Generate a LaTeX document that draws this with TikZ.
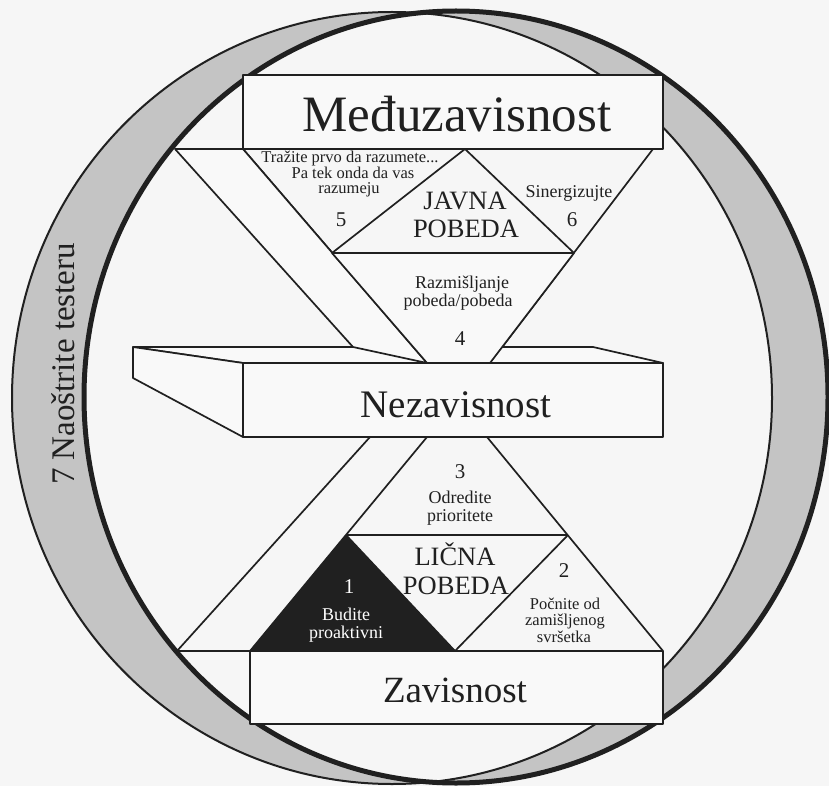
\documentclass[tikz,border=0pt]{standalone}
\usepackage{fontspec}
\setmainfont{Liberation Serif}
\definecolor{bg}{RGB}{246,246,246}
\definecolor{ringgray}{RGB}{196,196,196}
\definecolor{ink}{RGB}{32,32,32}
\definecolor{boxfill}{RGB}{249,249,249}
\begin{document}
\begin{tikzpicture}[x=1pt,y=-1pt,line join=round,
  edge/.style={draw=ink,line width=1.7pt},
  face/.style={fill=boxfill,draw=ink,line width=1.7pt},
  lab/.style={inner sep=0pt,anchor=base,text=ink},
  huge/.style={lab,font=\fontsize{51}{51}\selectfont},
  large/.style={lab,font=\fontsize{39}{39}\selectfont},
  win/.style={lab,font=\fontsize{26.5}{26.5}\selectfont},
  small/.style={lab,font=\fontsize{18}{18}\selectfont},
  smaller/.style={lab,font=\fontsize{16.5}{16.5}\selectfont},
  tiny/.style={lab,font=\fontsize{16.5}{16.5}\selectfont},
  num/.style={lab,font=\fontsize{21}{21}\selectfont}]
\fill[bg] (0,0) rectangle (829,786);
\useasboundingbox (0,0) rectangle (829,786);
% ring
\coordinate (ca) at (456,397);
\coordinate (cb) at (392,398);
\fill[ringgray,even odd rule] (ca) ellipse [x radius=372,y radius=386] (cb) ellipse [x radius=380,y radius=386];
\draw[ink,line width=2pt] (cb) ellipse [x radius=380,y radius=386];
\draw[ink,line width=5pt] (ca) ellipse [x radius=372,y radius=386];
% coordinates
\coordinate (t1) at (243,75);  \coordinate (t2) at (663,75);
\coordinate (t3) at (663,149); \coordinate (t4) at (243,149);
\coordinate (b0) at (175,149);
\coordinate (ja) at (465,149);
\coordinate (tr) at (653,149);
\coordinate (ml) at (332,253); \coordinate (mr) at (574,253);
\coordinate (s1) at (353,347);
\coordinate (f1) at (427,363); \coordinate (f2) at (490,363);
\coordinate (k1) at (133,347); \coordinate (k2) at (593,347);
\coordinate (k3) at (663,363); \coordinate (k4) at (243,363);
\coordinate (k5) at (243,437); \coordinate (k6) at (663,437);
\coordinate (k7) at (133,378);
\coordinate (g1) at (370,437); \coordinate (g2) at (427,437); \coordinate (g3) at (487,437);
\coordinate (h1) at (346,535); \coordinate (h2) at (568,535);
\coordinate (p0) at (177,651); \coordinate (p1) at (250,651);
\coordinate (p2) at (455,651); \coordinate (p3) at (663,651);
\coordinate (q1) at (250,724); \coordinate (q3) at (663,724);
% top box
\draw[face] (t1) rectangle (t3);
% upper structure
\draw[edge] (b0) -- (t4);
\draw[edge] (t4) -- (f1);
\draw[edge] (tr) -- (f2);
\draw[edge] (ml) -- (ja) -- (mr);
\draw[edge] (ml) -- (mr);
% slab top face
\draw[face] (k1) -- (k2) -- (k3) -- (k4) -- cycle;
% band and triangle 4 over the slab top
\draw[face] (b0) -- (t4) -- (f1) -- (s1) -- cycle;
\draw[face] (ml) -- (mr) -- (f2) -- (f1) -- cycle;
% slab front and side
\draw[face] (k4) rectangle (k6);
\draw[face] (k1) -- (k4) -- (k5) -- (k7) -- cycle;
% lower structure
\draw[edge] (g1) -- (p0);
\draw[edge] (g2) -- (p1);
\draw[edge] (g3) -- (p3);
\draw[edge] (h1) -- (h2);
\draw[edge] (h1) -- (p2) -- (h2);
\fill[ink] (p1) -- (p2) -- (h1) -- cycle;
\draw[edge] (p0) -- (p3);
% bottom box
\draw[face] (p1) rectangle (q3);
% texts
\node[huge] (tmedju) at (457,132) {Međuzavisnost};
\node[large] (tnez) at (456,417) {Nezavisnost};
\node[lab,font=\fontsize{37}{37}\selectfont] (tzav) at (455,702) {Zavisnost};
\node[win] (tjav) at (465,210) {JAVNA};
\node[win] (tjpob) at (466,237) {POBEDA};
\node[win] (tlic) at (455,565) {LIČNA};
\node[win] (tlpob) at (456,594) {POBEDA};
\node[tiny] (t5a) at (350,163) {Tražite prvo da razumete...};
\node[tiny] (t5b) at (353,179) {Pa tek onda da vas};
\node[tiny] (t5c) at (349,194) {razumeju};
\node[num] (n5) at (341,226) {5};
\node[small] (t6a) at (569,198) {Sinergizujte};
\node[num] (n6) at (572,226) {6};
\node[small] (t4a) at (462,288) {Razmišljanje};
\node[small] (t4b) at (458,306) {pobeda/pobeda};
\node[num] (n4) at (460,345) {4};
\node[num] (n3) at (460,478) {3};
\node[small] (t3a) at (460,503) {Odredite};
\node[small] (t3b) at (460,521) {prioritete};
\node[num,text=white] (n1) at (349,593) {1};
\node[small,text=white] (t1a) at (346,620) {Budite};
\node[small,text=white] (t1b) at (346,638) {proaktivni};
\node[num] (n2) at (564,577) {2};
\node[smaller] (t2a) at (565,609) {Počnite od};
\node[smaller] (t2b) at (565,625) {zamišljenog};
\node[smaller] (t2c) at (564,642) {svršetka};
\node[lab,anchor=center,rotate=90,font=\fontsize{33}{33}\selectfont] (t7) at (63,364) {7 Naoštrite testeru};
\end{tikzpicture}
\end{document}
